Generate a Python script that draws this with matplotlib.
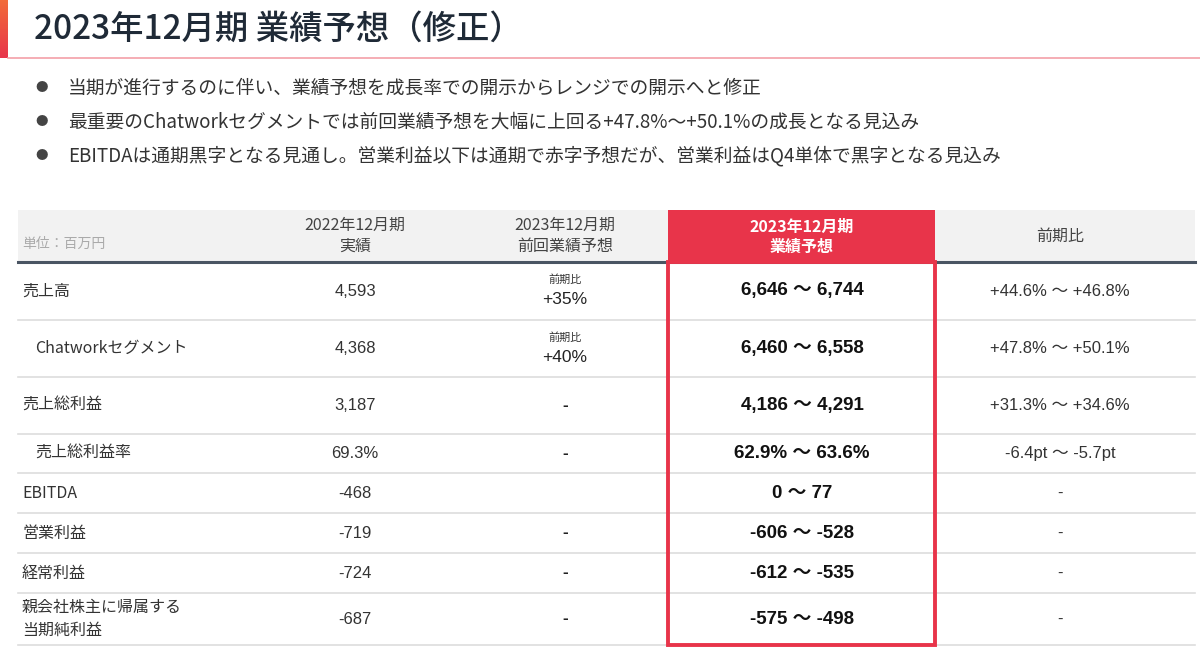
import matplotlib.pyplot as plt
from matplotlib.patches import Rectangle
import numpy as np

plt.rcParams['font.family'] = ['Noto Sans CJK JP', 'DejaVu Sans']
num_font = ['Liberation Sans', 'Noto Sans CJK JP']

title = '2023年12月期 業績予想（修正）'
bullets = [
    '当期が進行するのに伴い、業績予想を成長率での開示からレンジでの開示へと修正',
    '最重要のChatworkセグメントでは前回業績予想を大幅に上回る+47.8%～+50.1%の成長となる見込み',
    'EBITDAは通期黒字となる見通し。営業利益以下は通期で赤字予想だが、営業利益はQ4単体で黒字となる見込み',
]
headers = ['2022年12月期\n実績', '2023年12月期\n前回業績予想', '2023年12月期\n業績予想', '前期比']
row_labels = ['売上高', 'Chatworkセグメント', '売上総利益', '売上総利益率', 'EBITDA',
              '営業利益', '経常利益', '親会社株主に帰属する\n当期純利益']
indent = [False, True, False, True, False, False, False, False]
actual_2022 = ['4,593', '4,368', '3,187', '69.3%', '-468', '-719', '-724', '-687']
prev_forecast = ['+35%', '+40%', '-', '-', '', '-', '-', '-']
forecast = ['6,646 ～ 6,744', '6,460 ～ 6,558', '4,186 ～ 4,291', '62.9% ～ 63.6%',
            '0 ～ 77', '-606 ～ -528', '-612 ～ -535', '-575 ～ -498']
yoy = ['+44.6% ～ +46.8%', '+47.8% ～ +50.1%', '+31.3% ～ +34.6%', '-6.4pt ～ -5.7pt',
       '-', '-', '-', '-']

W, H = 1200, 661
fig = plt.figure(figsize=(12, 6.61), dpi=100)
ax = fig.add_axes([0, 0, 1, 1])
ax.set_xlim(0, W)
ax.set_ylim(H, 0)
ax.axis('off')

red = '#e8344a'
dark = '#1f2a37'
grey = '#333333'

# title bar
grad = np.linspace(0, 1, 50).reshape(-1, 1)
ax.imshow(grad, extent=(0, 8, 58, 0), cmap=plt.matplotlib.colors.LinearSegmentedColormap.from_list('g', ['#f26b3a', '#e8344a']), aspect='auto')
ax.plot([8, W], [57.5, 57.5], color='#f3a0a8', lw=1.2)
ax.text(34, 29, title, fontsize=24, color=dark, weight='medium', va='center', ha='left')

for i, b in enumerate(bullets):
    y = 88 + 34 * i
    ax.text(42, y, '●', fontsize=9, color='#444444', va='center', ha='center')
    ax.text(68, y, b, fontsize=13.5, color='#333333', va='center', ha='left')

# table
x0, x1 = 18, 1195
col_cx = [355, 565, 802, 1060]
box_l, box_r = 668, 935
top, hdr = 210, 262
bounds = [262, 320, 377, 434, 473, 513, 553, 593, 645]

ax.add_patch(Rectangle((x0, top), x1 - x0, hdr - top, color='#f2f2f2', lw=0))
ax.add_patch(Rectangle((box_l, top), box_r - box_l, hdr - top, color=red, lw=0, zorder=2))
ax.plot([x0, x1], [hdr, hdr], color='#4a5563', lw=2.2, zorder=3)
for yb in bounds[1:]:
    ax.plot([x0, x1], [yb, yb], color='#dddddd', lw=1.2, zorder=1)
ax.add_patch(Rectangle((box_l, hdr), box_r - box_l, bounds[-1] - hdr, fill=False,
                       edgecolor=red, lw=2.8, zorder=4))

ax.text(22, 244, '単位：百万円', fontsize=10, color='#aaaaaa', va='center')
for j, h in enumerate(headers):
    if j == 2:
        ax.text(col_cx[j], 237, h, fontsize=11.5, color='white', weight='bold',
                ha='center', va='center', linespacing=1.3, zorder=5)
    else:
        ax.text(col_cx[j], 236, h, fontsize=11.5, color='#444444',
                ha='center', va='center', linespacing=1.3)

for i in range(len(row_labels)):
    cy = (bounds[i] + bounds[i + 1]) / 2
    ax.text(35 if indent[i] else 22, cy, row_labels[i], fontsize=11.5, color=grey,
            va='center', ha='left', linespacing=1.5)
    ax.text(col_cx[0], cy, actual_2022[i], fontsize=12, color=grey, ha='center', va='center',
            family=num_font)
    p = prev_forecast[i]
    if p.startswith('+'):
        ax.text(col_cx[1], cy - 11, '前期比', fontsize=8, color=grey, ha='center', va='center')
        ax.text(col_cx[1], cy + 9, p, fontsize=12.5, color='#222222', ha='center', va='center',
                family=num_font)
    elif p:
        ax.text(col_cx[1], cy, p, fontsize=12.5, color='#222222', weight='bold', ha='center',
                va='center', family=num_font)
    ax.text(col_cx[2], cy, forecast[i], fontsize=13.5, color='#111111', weight='bold',
            ha='center', va='center', zorder=5, family=num_font)
    ax.text(col_cx[3], cy, yoy[i], fontsize=12, color=grey, ha='center', va='center',
            family=num_font)

fig.savefig('out.png', dpi=100)
